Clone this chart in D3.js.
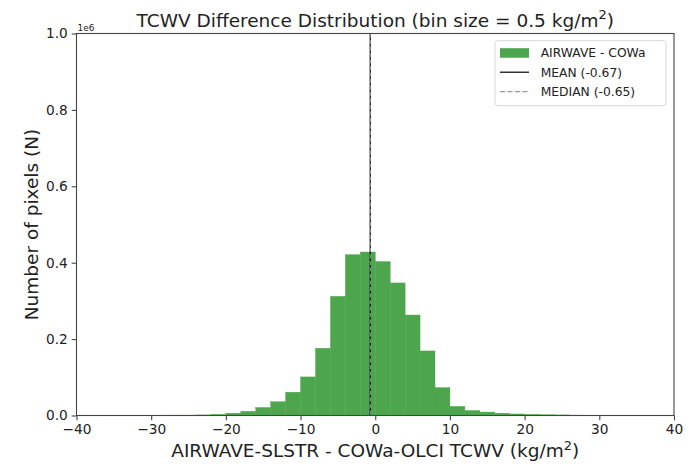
<!DOCTYPE html>
<html>
<head>
<meta charset="utf-8">
<script src="https://cdn.jsdelivr.net/npm/d3@7"></script>
<style>
  body { margin: 0; background: #fff; }
  text { font-family: "DejaVu Sans", sans-serif; fill: #222; }
</style>
</head>
<body>
<div id="chart"></div>
<script>
var svgWidth = 692;
var svgHeight = 464;

// plot area (pixel box of the axes)
var margin = { top: 33.5, right: 18, bottom: 48.5, left: 76.5 };
var width = svgWidth - margin.left - margin.right;
var height = svgHeight - margin.top - margin.bottom;

// histogram data: bin left edges (kg/m2) and counts (units of 1e6)
var binEdges = [-28, -26, -24, -22, -20, -18, -16, -14, -12, -10, -8, -6, -4, -2,
                0, 2, 4, 6, 8, 10, 12, 14, 16, 18, 20, 22, 24, 26];
var binWidth = 2;
var counts = [0.001, 0.001, 0.0015, 0.003, 0.006, 0.011, 0.021, 0.036, 0.061, 0.101, 0.176, 0.312, 0.421, 0.428,
              0.403, 0.347, 0.263, 0.169, 0.073, 0.024, 0.013, 0.009, 0.006, 0.004, 0.003, 0.002, 0.0015, 0.001];
var meanValue = -0.67;
var medianValue = -0.65;
var xTicks = [-40, -30, -20, -10, 0, 10, 20, 30, 40];
var yTicks = [0, 0.2, 0.4, 0.6, 0.8, 1.0];
var legendLabels = ["AIRWAVE - COWa", "MEAN (-0.67)", "MEDIAN (-0.65)"];

// green at alpha 0.7 over white
var barColor = d3.interpolateRgb("white", "green")(0.7);

var svg = d3.select("#chart")
  .append("svg")
  .attr("width", svgWidth)
  .attr("height", svgHeight);

var chartGroup = svg.append("g")
  .attr("transform", `translate(${margin.left}, ${margin.top})`);

var x = d3.scaleLinear().domain([-40, 40]).range([0, width]);
var y = d3.scaleLinear().domain([0, 1]).range([height, 0]);

// bars
chartGroup.selectAll("rect.bar")
  .data(binEdges)
  .enter()
  .append("rect")
  .attr("class", "bar")
  .attr("x", d => x(d))
  .attr("width", d => x(d + binWidth) - x(d))
  .attr("y", (d, i) => y(counts[i]))
  .attr("height", (d, i) => y(0) - y(counts[i]))
  .attr("fill", barColor)
  .attr("stroke", barColor)
  .attr("stroke-width", 0.4);

// mean / median lines
chartGroup.append("line")
  .attr("x1", x(meanValue)).attr("x2", x(meanValue))
  .attr("y1", 0).attr("y2", height)
  .attr("stroke", "black").attr("stroke-width", 1.2);

chartGroup.append("line")
  .attr("x1", x(medianValue)).attr("x2", x(medianValue))
  .attr("y1", 0).attr("y2", height)
  .attr("stroke", "gray").attr("stroke-width", 1.2)
  .attr("stroke-dasharray", "4,2.5");

// axes
var bottomAxis = d3.axisBottom(x).tickValues(xTicks).tickSize(4.8).tickPadding(3.5)
  .tickFormat(d => d < 0 ? "\u2212" + Math.abs(d) : d);
var leftAxis = d3.axisLeft(y).tickValues(yTicks).tickSize(4.8).tickPadding(4)
  .tickFormat(d3.format(".1f"));

var xAxisG = chartGroup.append("g")
  .attr("transform", `translate(0, ${height})`)
  .call(bottomAxis);
var yAxisG = chartGroup.append("g").call(leftAxis);

[xAxisG, yAxisG].forEach(function(g) {
  g.select(".domain").remove();
  g.selectAll("line").attr("stroke", "#444").attr("stroke-width", 1.1);
  g.selectAll("text").attr("font-size", 13.7).attr("fill", "#222")
    .style("font-family", "DejaVu Sans");
});

// frame
chartGroup.append("rect")
  .attr("width", width).attr("height", height)
  .attr("fill", "none").attr("stroke", "#444").attr("stroke-width", 1.1);

// offset text
chartGroup.append("text")
  .attr("x", 1).attr("y", -3)
  .attr("font-size", 9)
  .text("1e6");

// title
var title = svg.append("text")
  .attr("x", margin.left + width / 2)
  .attr("y", 26.7)
  .attr("text-anchor", "middle")
  .attr("font-size", 18.5);
title.append("tspan").text("TCWV Difference Distribution (bin size = 0.5 kg/m");
title.append("tspan").attr("font-size", 13).attr("dy", -7.5).text("2");
title.append("tspan").attr("dy", 7.5).text(")");

// axis labels
var xLabel = svg.append("text")
  .attr("x", margin.left + width / 2)
  .attr("y", 457)
  .attr("text-anchor", "middle")
  .attr("font-size", 18.5);
xLabel.append("tspan").text("AIRWAVE-SLSTR - COWa-OLCI TCWV (kg/m");
xLabel.append("tspan").attr("font-size", 13).attr("dy", -7.5).text("2");
xLabel.append("tspan").attr("dy", 7.5).text(")");

svg.append("text")
  .attr("transform", `translate(38, ${margin.top + height / 2}) rotate(-90)`)
  .attr("text-anchor", "middle")
  .attr("font-size", 18.5)
  .text("Number of pixels (N)");

// legend
var legend = chartGroup.append("g")
  .attr("transform", `translate(${width - 179}, 7.2)`);

legend.append("rect")
  .attr("width", 171).attr("height", 65)
  .attr("rx", 3)
  .attr("fill", "white").attr("fill-opacity", 0.8)
  .attr("stroke", "#d8d8d8");

legend.append("rect")
  .attr("x", 5).attr("y", 7.5).attr("width", 29).attr("height", 9.5)
  .attr("fill", barColor);

legend.append("line")
  .attr("x1", 5).attr("x2", 34).attr("y1", 31.5).attr("y2", 31.5)
  .attr("stroke", "black").attr("stroke-width", 1.2);

legend.append("line")
  .attr("x1", 5).attr("x2", 34).attr("y1", 51).attr("y2", 51)
  .attr("stroke", "gray").attr("stroke-width", 1)
  .attr("stroke-dasharray", "5,2.5");

legend.selectAll("text.lab")
  .data(legendLabels)
  .enter()
  .append("text")
  .attr("class", "lab")
  .attr("x", 45.7)
  .attr("y", (d, i) => 16.5 + i * 19.5)
  .attr("font-size", 12.3)
  .text(d => d);
</script>
</body>
</html>
